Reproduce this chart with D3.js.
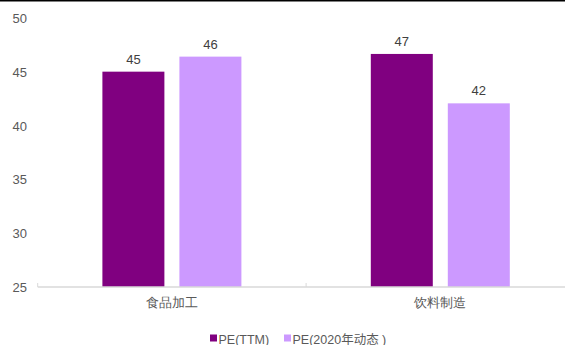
<!DOCTYPE html>
<html>
<head>
<meta charset="utf-8">
<script src="https://cdn.jsdelivr.net/npm/d3@7/dist/d3.min.js"></script>
<style>
  html, body { margin: 0; padding: 0; background: #fff; }
  svg { display: block; font-family: "Liberation Sans", Arial, "Noto Sans CJK SC", sans-serif; }
</style>
</head>
<body>
<svg id="chart" width="565" height="345"></svg>
<script>
// Industry valuation: PE (TTM) vs PE (2020 forward)
const categories = ["食品加工", "饮料制造"];
const seriesNames = ["PE(TTM)", "PE(2020年动态 )"];
const peTTM = [45.05, 46.7];
const pe2020 = [46.45, 42.1];
const yTicks = [25, 30, 35, 40, 45, 50];

const colors = ["#800080", "#CC99FF"];
const values = [peTTM, pe2020];

const svg = d3.select("#chart");
const W = 565, H = 345;
const plot = { left: 37.7, right: 574.5, top: 18.5, bottom: 287 };

// top rule
svg.append("line")
  .attr("x1", 0).attr("x2", W).attr("y1", 0.75).attr("y2", 0.75)
  .attr("stroke", "#000").attr("stroke-width", 1.5);

const x0 = d3.scaleBand().domain(categories).range([plot.left, plot.right]).paddingInner(0).paddingOuter(0);
const x1 = d3.scaleBand().domain(seriesNames).range([-69.5, 69.5]).paddingInner(0.195);
const y = d3.scaleLinear().domain([25, 50]).range([plot.bottom, plot.top]);

// y axis labels (no line)
const yAxis = svg.append("g")
  .attr("transform", `translate(37,0)`)
  .call(d3.axisLeft(y).tickValues(yTicks).tickSize(0).tickPadding(10));
yAxis.select(".domain").remove();
yAxis.selectAll("text").attr("fill", "#595959").attr("font-size", 13);

// bars
const groups = svg.append("g").selectAll("g")
  .data(categories)
  .join("g")
  .attr("transform", d => `translate(${x0(d) + x0.bandwidth() / 2},0)`);

const fmt = d3.format(".0f");
groups.each(function (cat, ci) {
  const g = d3.select(this);
  seriesNames.forEach((s, si) => {
    const v = values[si][ci];
    g.append("rect")
      .attr("x", x1(s))
      .attr("width", x1.bandwidth())
      .attr("y", y(v))
      .attr("height", y(25) - y(v))
      .attr("fill", colors[si]);
    g.append("text")
      .attr("x", x1(s) + x1.bandwidth() / 2)
      .attr("y", y(v) - 8)
      .attr("text-anchor", "middle")
      .attr("fill", "#404040")
      .attr("font-size", 13)
      .text(fmt(v));
  });
});

// x axis
const xAxis = svg.append("g")
  .attr("transform", `translate(0,${plot.bottom})`)
  .call(d3.axisBottom(x0).tickSize(0).tickPadding(11));
xAxis.select(".domain").attr("stroke", "#d9d9d9").attr("stroke-width", 1.5)
  .attr("d", `M${plot.left},0H${plot.right}`);
xAxis.selectAll("text").attr("fill", "#595959").attr("font-size", 13);
// boundary ticks between categories
const bounds = [plot.left, ...categories.map(c => x0(c) + x0.bandwidth())];
xAxis.selectAll("line.bound")
  .data(bounds)
  .join("line")
  .attr("class", "bound")
  .attr("x1", d => d).attr("x2", d => d)
  .attr("y1", -4).attr("y2", 0)
  .attr("stroke", "#d9d9d9").attr("stroke-width", 1);

// legend
const legend = svg.append("g").attr("transform", "translate(210,339)");
const legendX = [0, 74];
seriesNames.forEach((s, i) => {
  const item = legend.append("g").attr("transform", `translate(${legendX[i]},0)`);
  item.append("rect").attr("x", 0).attr("y", -4.5).attr("width", 7).attr("height", 7).attr("fill", colors[i]);
  item.append("text").attr("x", 8.5).attr("y", 4.5).attr("fill", "#595959").attr("font-size", 12.5).text(s);
});
</script>
</body>
</html>
